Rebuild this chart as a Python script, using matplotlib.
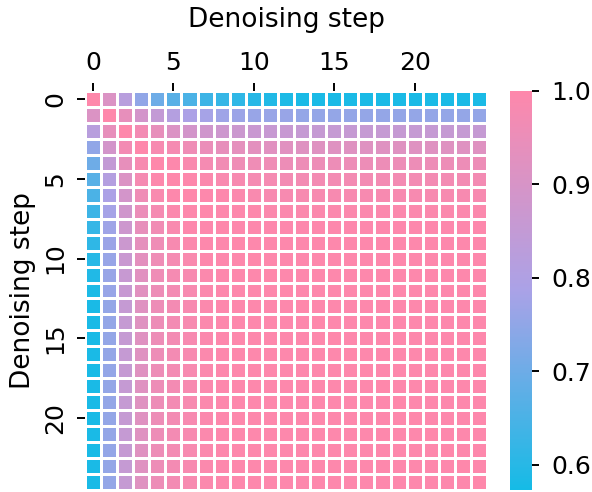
import numpy as np
import matplotlib
matplotlib.use("Agg")
import matplotlib.pyplot as plt
import seaborn as sns
from matplotlib.colors import LinearSegmentedColormap

# upper triangle of the step-to-step similarity matrix, row i starts at column i
r0 = [1.00, 0.91, 0.82, 0.75, 0.70, 0.67, 0.65, 0.63, 0.62, 0.61, 0.60, 0.59, 0.585,
      0.58, 0.58, 0.58, 0.58, 0.58, 0.58, 0.58, 0.58, 0.58, 0.58, 0.58, 0.58]
r1 = [1.00, 0.94, 0.89, 0.85, 0.81, 0.79, 0.78, 0.77, 0.765, 0.76, 0.76, 0.76,
      0.755, 0.755, 0.755, 0.755, 0.755, 0.755, 0.755, 0.755, 0.755, 0.755, 0.755, 0.755]
r2 = [1.00, 0.97, 0.94, 0.91, 0.89, 0.88, 0.875, 0.87, 0.865, 0.86, 0.86,
      0.855, 0.855, 0.855, 0.855, 0.855, 0.855, 0.855, 0.855, 0.855, 0.855, 0.855, 0.855]
r3 = [1.00, 0.98, 0.975, 0.96, 0.95, 0.94, 0.935, 0.93, 0.925, 0.925,
      0.92, 0.92, 0.92, 0.92, 0.92, 0.92, 0.92, 0.92, 0.92, 0.92, 0.92, 0.92]
r4 = [1.00, 0.995, 0.985, 0.975, 0.965, 0.96, 0.96, 0.96,
      0.955, 0.955, 0.955, 0.955, 0.955, 0.955, 0.955, 0.955, 0.955, 0.955, 0.955, 0.955, 0.955]
r5 = [1.00, 0.995, 0.99, 0.985, 0.98, 0.975, 0.975,
      0.97, 0.97, 0.97, 0.97, 0.97, 0.97, 0.97, 0.97, 0.97, 0.97, 0.97, 0.97, 0.97]
r6 = [1.00, 0.995, 0.995, 0.99, 0.985,
      0.98, 0.98, 0.98, 0.98, 0.98, 0.98, 0.98, 0.98, 0.98, 0.98, 0.98, 0.98, 0.98, 0.98]
r7 = [1.00, 0.995, 0.995, 0.995,
      0.99, 0.99, 0.99, 0.99, 0.99, 0.99, 0.99, 0.99, 0.99, 0.99, 0.99, 0.99, 0.99, 0.99]
r8 = [1.00, 0.995, 0.995, 0.995, 0.995, 0.995, 0.995, 0.995, 0.995, 0.995, 0.995, 0.995, 0.995,
      0.995, 0.995, 0.995, 0.995]
r9 = [1.00, 0.995, 0.995, 0.995, 0.995, 0.995, 0.995, 0.995, 0.995, 0.995, 0.995, 0.995, 0.995,
      0.995, 0.995, 0.995]
r10 = [1.00, 0.995, 0.995, 0.995, 0.995, 0.995, 0.995, 0.995, 0.995, 0.995, 0.995, 0.995, 0.995,
       0.995, 0.995]
r11 = [1.00, 0.995, 0.995, 0.995, 0.995, 0.995, 0.995, 0.995, 0.995, 0.995, 0.995, 0.995, 0.995,
       0.995]
r12 = [1.00, 0.995, 0.995, 0.995, 0.995, 0.995, 0.995, 0.995, 0.995, 0.995, 0.995, 0.995, 0.995]
r13 = [1.00, 0.995, 0.995, 0.995, 0.995, 0.995, 0.995, 0.995, 0.995, 0.995, 0.995, 0.995]
r14 = [1.00, 0.995, 0.995, 0.995, 0.995, 0.995, 0.995, 0.995, 0.995, 0.995, 0.995]
r15 = [1.00, 0.995, 0.995, 0.995, 0.995, 0.995, 0.995, 0.995, 0.995, 0.995]
r16 = [1.00, 0.995, 0.995, 0.995, 0.995, 0.995, 0.995, 0.995, 0.995]
r17 = [1.00, 0.995, 0.995, 0.995, 0.995, 0.995, 0.995, 0.995]
r18 = [1.00, 0.995, 0.995, 0.995, 0.995, 0.995, 0.995]
r19 = [1.00, 0.995, 0.995, 0.995, 0.995, 0.995]
r20 = [1.00, 0.995, 0.995, 0.995, 0.995]
r21 = [1.00, 0.995, 0.995, 0.995]
r22 = [1.00, 0.995, 0.995]
r23 = [1.00, 0.995]
r24 = [1.00]
rows = [r0, r1, r2, r3, r4, r5, r6, r7, r8, r9, r10, r11, r12, r13, r14,
        r15, r16, r17, r18, r19, r20, r21, r22, r23, r24]

tick_pos = [0, 5, 10, 15, 20]
cbar_ticks = [0.6, 0.7, 0.8, 0.9, 1.0]

n = len(rows)
sim = np.zeros((n, n))
for i, r in enumerate(rows):
    sim[i, i:] = r
sim = np.triu(sim) + np.triu(sim, 1).T

cmap = LinearSegmentedColormap.from_list("cyan_pink", ["#15bbe6", "#aaa2e7", "#fe88ab"])

fig = plt.figure(figsize=(5.92, 4.92), dpi=100)
ax = fig.add_axes([85 / 592, 2 / 492, 402 / 592, 399 / 492])
cax = fig.add_axes([510 / 592, 2 / 492, 22 / 592, 399 / 492])

sns.heatmap(sim, ax=ax, cbar_ax=cax, cmap=cmap, vmin=0.573, vmax=1.0,
            linewidths=1, linecolor="white", square=False,
            xticklabels=False, yticklabels=False)

ax.xaxis.tick_top()
ax.xaxis.set_label_position("top")
ax.set_xticks([p + 0.5 for p in tick_pos])
ax.set_xticklabels([str(p) for p in tick_pos], fontsize=18)
ax.set_yticks([p + 0.5 for p in tick_pos])
ax.set_yticklabels([str(p) for p in tick_pos], fontsize=18, rotation=90, va="center")
ax.tick_params(axis="x", length=6, width=1.4, pad=5.5)
ax.tick_params(axis="y", length=6, width=1.4, pad=7)
ax.set_xlabel("Denoising step", fontsize=19, labelpad=17)
ax.set_ylabel("Denoising step", fontsize=19, labelpad=5)

cax.set_yticks(cbar_ticks)
cax.set_yticklabels([f"{t:.1f}" for t in cbar_ticks])
cax.tick_params(labelsize=18, length=5, width=1.4, pad=9)
for s in cax.spines.values():
    s.set_visible(False)

fig.savefig("out.png", dpi=100)
